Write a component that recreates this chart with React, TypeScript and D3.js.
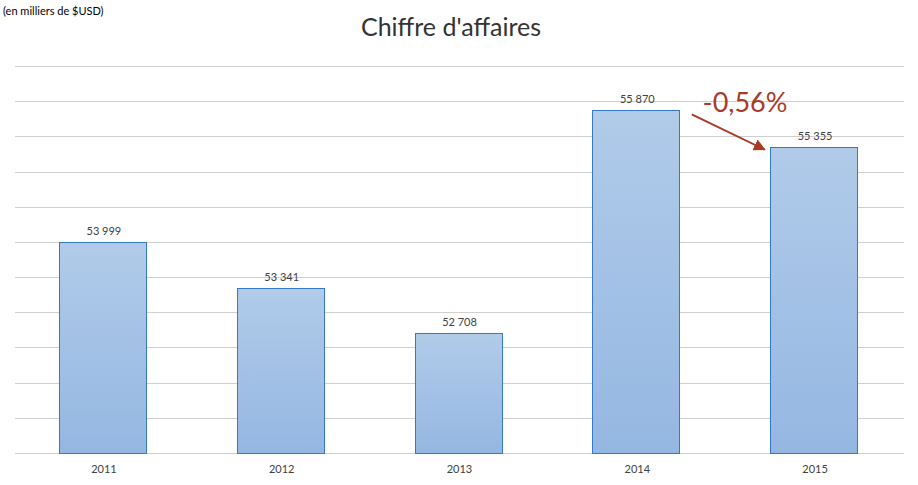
import React from "react";
import * as d3 from "d3";

const years = ["2011", "2012", "2013", "2014", "2015"];
const values = [53999, 53341, 52708, 55870, 55355];
const valueLabels = ["53 999", "53 341", "52 708", "55 870", "55 355"];
const gridTicks = [51000, 51500, 52000, 52500, 53000, 53500, 54000, 54500, 55000, 55500, 56000, 56500];
const title = "Chiffre d'affaires";
const unitNote = "(en milliers de $USD)";
const changeLabel = "-0,56%";

const W = 918, H = 485;
const left = 15, right = 904, top = 66, bottom = 453;
const font = "Lato, 'Open Sans', sans-serif";

export default function App() {
  const x = d3.scaleBand().domain(years).range([left, right]).paddingInner(0.5).paddingOuter(0.25);
  const y = d3.scaleLinear().domain([51000, 56500]).range([bottom, top]);
  const bw = x.bandwidth();
  const x4 = x("2014")! + bw;
  const y4 = y(values[3]);
  const x5 = x("2015")!;
  const y5 = y(values[4]);
  const ax1 = x4 + 10, ay1 = y4 + 4;
  const ax2 = x5 - 6, ay2 = y5 + 3;
  return (
    <svg width={W} height={H} style={{ position: "absolute", left: 0, top: 0, background: "#fff" }}>
      <defs>
        <linearGradient id="barg" x1="0" y1="0" x2="0" y2="1">
          <stop offset="0" stopColor="#b1cbe9" />
          <stop offset="1" stopColor="#94b7e2" />
        </linearGradient>
        <marker id="arr" viewBox="0 0 10 10" refX="9" refY="5" markerWidth="6" markerHeight="6" orient="auto">
          <path d="M0,0 L10,5 L0,10 z" fill="#a93a26" />
        </marker>
      </defs>
      <text x={3} y={15} fontFamily={font} fontSize={11} fill="#000">{unitNote}</text>
      <text x={451} y={36} textAnchor="middle" fontFamily={font} fontSize={25} fill="#333">{title}</text>
      {gridTicks.map((t) => (
        <line key={t} x1={left} x2={right} y1={Math.round(y(t)) + 0.5} y2={Math.round(y(t)) + 0.5} stroke="#cfcfcf" strokeWidth={1} />
      ))}
      {years.map((yr, i) => {
        const bx = x(yr)!;
        const by = y(values[i]);
        return (
          <g key={yr}>
            <rect x={Math.floor(bx) + 0.5} y={Math.round(by) + 0.5} width={Math.floor(bw) - 1} height={bottom - Math.round(by)} fill="url(#barg)" stroke="#3479c9" strokeWidth={1} />
            <text x={bx + bw / 2} y={by - 7} textAnchor="middle" fontFamily={font} fontSize={11} fill="#404040">{valueLabels[i]}</text>
            <text x={bx + bw / 2} y={473} textAnchor="middle" fontFamily={font} fontSize={11} fill="#404040">{yr}</text>
          </g>
        );
      })}
      <line x1={ax1} y1={ay1} x2={ax2} y2={ay2} stroke="#a93a26" strokeWidth={2} markerEnd="url(#arr)" />
      <text x={745} y={112} textAnchor="middle" fontFamily={font} fontSize={27} fill="#a93a26">{changeLabel}</text>
    </svg>
  );
}
